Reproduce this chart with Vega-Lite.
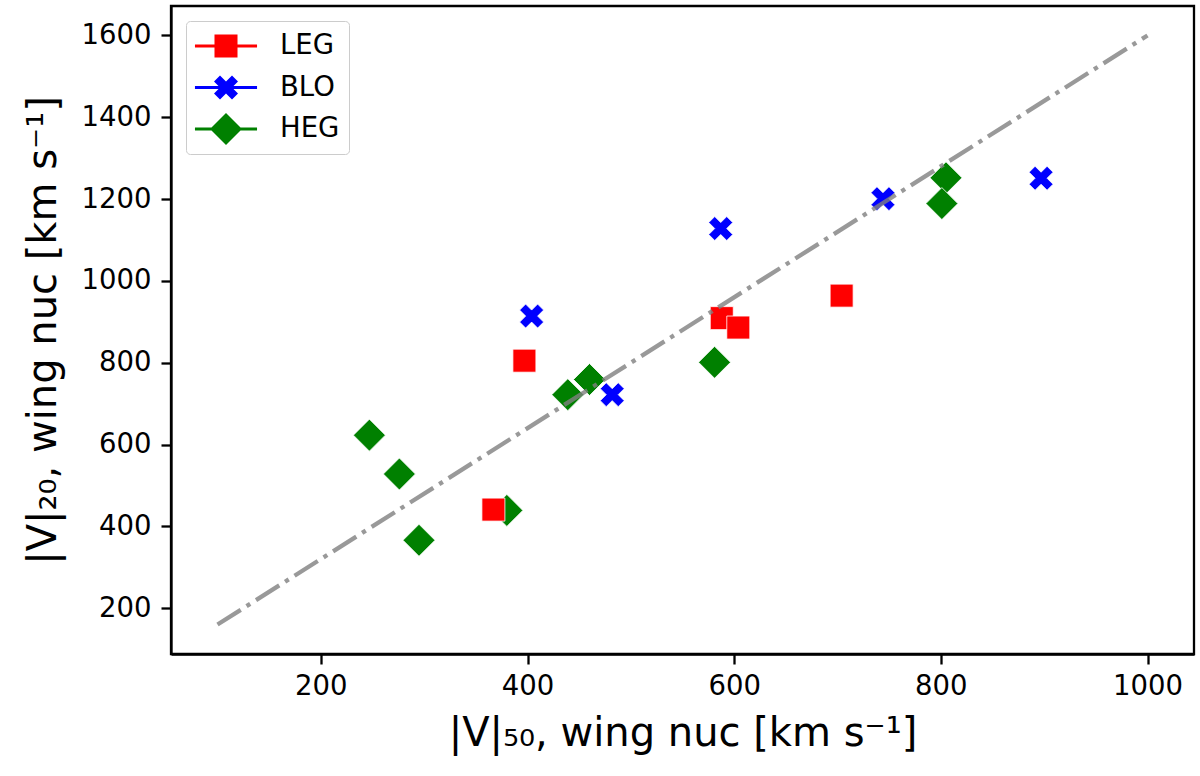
{
  "$schema": "https://vega.github.io/schema/vega-lite/v6.json",
  "description": "|V|20 vs |V|50 wing nuc velocities for LEG, BLO and HEG sources",
  "width": 1023,
  "height": 648,
  "autosize": {"type": "none"},
  "padding": {"left": 171, "top": 6, "right": 6, "bottom": 122},
  "config": {
    "view": {"stroke": "black", "strokeWidth": 2.3},
    "axis": {
      "grid": false,
      "format": "d",
      "domainColor": "black",
      "domainWidth": 2.3,
      "tickColor": "black",
      "tickWidth": 2.3,
      "tickSize": 10,
      "labelFont": "DejaVu Sans",
      "labelFontSize": 27.5,
      "labelColor": "black",
      "titleFont": "DejaVu Sans",
      "titleFontSize": 40,
      "titleFontWeight": "normal",
      "titleColor": "black"
    },
    "legend": {
      "labelFont": "DejaVu Sans",
      "labelFontSize": 27.5,
      "labelColor": "black",
      "symbolSize": 1024,
      "symbolStrokeWidth": 0,
      "symbolOpacity": 1
    }
  },
  "resolve": {"scale": {"shape": "independent", "color": "independent"}},
  "layer": [
    {
      "data": {"values": [{"cls": "LEG"}, {"cls": "BLO"}, {"cls": "HEG"}]},
      "mark": {"type": "point", "filled": true, "size": 0},
      "encoding": {
        "color": {
          "field": "cls", "type": "nominal",
          "scale": {"domain": ["LEG", "BLO", "HEG"], "range": ["#ff0000", "#0000ff", "#008000"]},
          "legend": {
            "title": null,
            "orient": "top-left",
            "offset": 15,
            "padding": 9,
            "strokeColor": "#cccccc",
            "fillColor": "rgba(255,255,255,0.8)",
            "cornerRadius": 4,
            "symbolOffset": 15,
            "labelOffset": 38,
            "rowPadding": 11.5
          }
        },
        "shape": {
          "field": "cls", "type": "nominal",
          "scale": {
            "domain": ["LEG", "BLO", "HEG"],
            "range": [
              "M-1.94,-0.094H1.94V0.094H-1.94Z M-0.719,-0.719H0.719V0.719H-0.719Z",
              "M-1.94,-0.094V0.094H1.94V-0.094Z M0.375,-0.75L0,-0.375L-0.375,-0.75L-0.75,-0.375L-0.375,0L-0.75,0.375L-0.375,0.75L0,0.375L0.375,0.75L0.75,0.375L0.375,0L0.75,-0.375Z",
              "M-1.94,-0.094H1.94V0.094H-1.94Z M-1,0L0,-1L1,0L0,1Z"
            ]
          },
          "legend": {
            "title": null,
            "orient": "top-left",
            "offset": 15,
            "padding": 9,
            "strokeColor": "#cccccc",
            "fillColor": "rgba(255,255,255,0.8)",
            "cornerRadius": 4,
            "symbolOffset": 15,
            "labelOffset": 38,
            "rowPadding": 11.5
          }
        }
      }
    },
    {
      "data": {
        "values": [
          {"x": 439, "y": 722, "cls": "HEG"},
          {"x": 460, "y": 759, "cls": "HEG"},
          {"x": 247, "y": 623, "cls": "HEG"},
          {"x": 276, "y": 528, "cls": "HEG"},
          {"x": 380, "y": 439, "cls": "HEG"},
          {"x": 295, "y": 366, "cls": "HEG"},
          {"x": 805, "y": 1252, "cls": "HEG"},
          {"x": 801, "y": 1189, "cls": "HEG"},
          {"x": 581, "y": 801, "cls": "HEG"},
          {"x": 397, "y": 805, "cls": "LEG"},
          {"x": 367, "y": 441, "cls": "LEG"},
          {"x": 704, "y": 964, "cls": "LEG"},
          {"x": 588, "y": 909, "cls": "LEG"},
          {"x": 604, "y": 886, "cls": "LEG"},
          {"x": 404, "y": 914, "cls": "BLO"},
          {"x": 482, "y": 722, "cls": "BLO"},
          {"x": 587, "y": 1128, "cls": "BLO"},
          {"x": 744, "y": 1201, "cls": "BLO"},
          {"x": 897, "y": 1251, "cls": "BLO"}
        ]
      },
      "mark": {"type": "point", "filled": true, "opacity": 1, "size": 1024, "stroke": "white", "strokeWidth": 0.8},
      "encoding": {
        "x": {
          "field": "x", "type": "quantitative",
          "scale": {"domain": [55, 1045], "nice": false, "zero": false},
          "axis": {
            "values": [200, 400, 600, 800, 1000],
            "labelPadding": 8,
            "title": "|V|₅₀, wing nuc [km s⁻¹]",
            "titlePadding": 14
          }
        },
        "y": {
          "field": "y", "type": "quantitative",
          "scale": {"domain": [88, 1672], "nice": false, "zero": false},
          "axis": {
            "values": [200, 400, 600, 800, 1000, 1200, 1400, 1600],
            "labelPadding": 10,
            "title": "|V|₂₀, wing nuc [km s⁻¹]",
            "titlePadding": 18
          }
        },
        "color": {
          "field": "cls", "type": "nominal",
          "scale": {"domain": ["LEG", "BLO", "HEG"], "range": ["#ff0000", "#0000ff", "#008000"]},
          "legend": null
        },
        "shape": {
          "field": "cls", "type": "nominal",
          "scale": {
            "domain": ["LEG", "BLO", "HEG"],
            "range": [
              "M-0.719,-0.719H0.719V0.719H-0.719Z",
              "M0.375,-0.75L0,-0.375L-0.375,-0.75L-0.75,-0.375L-0.375,0L-0.75,0.375L-0.375,0.75L0,0.375L0.375,0.75L0.75,0.375L0.375,0L0.75,-0.375Z",
              "M-1,0L0,-1L1,0L0,1Z"
            ]
          },
          "legend": null
        }
      }
    },
    {
      "data": {"values": [{"x": 100, "y": 160}, {"x": 1000, "y": 1600}]},
      "mark": {"type": "line", "color": "gray", "opacity": 0.8, "strokeWidth": 4.3, "strokeDash": [27.5, 6.9, 4.3, 6.9], "strokeCap": "butt"},
      "encoding": {
        "x": {"field": "x", "type": "quantitative"},
        "y": {"field": "y", "type": "quantitative"}
      }
    }
  ]
}
